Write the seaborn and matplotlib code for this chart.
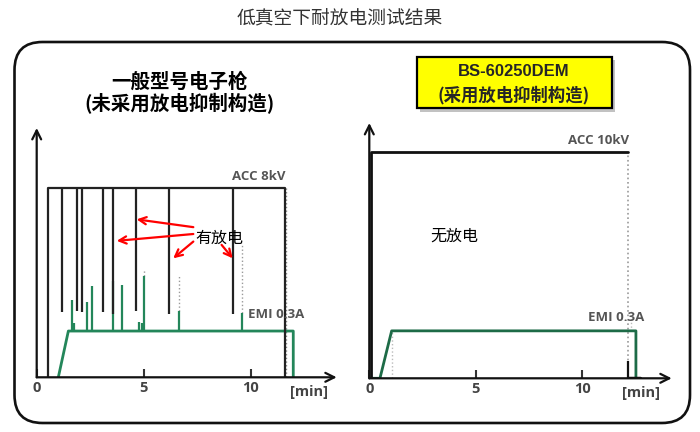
'''
Discharge test under low vacuum: ordinary gun vs BS-60250DEM.
'''
import matplotlib
matplotlib.use('agg')

import matplotlib.pyplot as plt
from matplotlib.patches import FancyBboxPatch, Rectangle
import seaborn as sns

# ---- data (minutes, kV-ish units) ----
# ordinary gun (left)
left_acc_t = [0.54, 0.54, 11.6, 11.6]
left_acc_v = [0, 8, 8, 0]
left_emi_t = [1.01, 1.48, 11.99, 11.99]
left_emi_v = [0, 1.96, 1.96, 0]
discharge_t = [1.2, 1.87, 2.13, 3.11, 3.58, 4.64, 6.2, 9.16]
discharge_low = [2.75, 2.8, 2.75, 2.75, 2.7, 2.8, 2.7, 2.7]
emi_spike_t = [1.64, 1.76, 2.34, 2.6, 3.55, 4.0, 4.79, 4.9, 5.03, 6.65, 9.58]
emi_spike_top = [3.28, 2.3, 3.19, 3.86, 4.1, 3.93, 2.34, 2.3, 4.27, 2.81, 2.72]
faint_t = [5.03, 6.65, 9.58]
faint_low = [4.27, 2.81, 2.72]
faint_high = [4.6, 4.3, 5.7]

# BS-60250DEM (right)
right_acc_t = [0.07, 0.07, 12.13]
right_acc_v = [0, 10, 10]
right_emi_t = [0.0, 0.5, 1.05, 12.52, 12.52]
right_emi_v = [0, 0, 2.1, 2.1, 0]
right_tail_t = [12.13, 12.7]
right_spike_t = [12.13]
right_spike_top = [0.77]

ticks = [0, 5, 10]
tick_labels = ['0', '5', '10']

W, H = 700, 432
sns.set_theme(style='white')
plt.rcParams['font.family'] = ['Noto Sans CJK SC', 'DejaVu Sans']
CJK = ['Noto Sans CJK SC', 'DejaVu Sans']
LAT = ['Open Sans', 'DejaVu Sans']

fig = plt.figure(figsize=(W / 100, H / 100), dpi=100)
fig.patch.set_facecolor('white')


def fx(px):
    return px / W


def fy(py):
    return 1 - py / H


# title
fig.text(fx(340), fy(18), '低真空下耐放电测试结果', ha='center', va='center',
         fontsize=13.5, family=CJK, color='#333333')

# rounded frame (inches)
frame = FancyBboxPatch((0.145, (H - 423) / 100), (690 - 14.5) / 100, (423 - 42) / 100,
                       boxstyle='round,pad=0,rounding_size=0.28',
                       transform=fig.dpi_scale_trans, fill=False,
                       edgecolor='#111111', linewidth=1.9)
fig.add_artist(frame)

# panel headings
fig.text(fx(179), fy(82), '一般型号电子枪', ha='center', va='center',
         fontsize=14, fontweight='bold', family=CJK, color='black')
fig.text(fx(179), fy(104), '(未采用放电抑制构造)', ha='center', va='center',
         fontsize=14, fontweight='bold', family=CJK, color='black')

shadow = Rectangle((fx(420), fy(111.5)), fx(195), fy(0) - fy(51), transform=fig.transFigure,
                   facecolor='#9a9a9a', edgecolor='none', alpha=0.6)
fig.add_artist(shadow)
ybox = Rectangle((fx(416.7), fy(108.3)), fx(195), fy(0) - fy(51), transform=fig.transFigure,
                 facecolor='#ffff00', edgecolor='black', linewidth=1.6)
fig.add_artist(ybox)
fig.text(fx(514), fy(72), 'BS-60250DEM', ha='center', va='center',
         fontsize=12, fontweight='bold', family=['Liberation Sans', 'DejaVu Sans'])
fig.text(fx(514), fy(95), '(采用放电抑制构造)', ha='center', va='center',
         fontsize=12.5, fontweight='bold', family=CJK)


def make_axes(left, right, bottom, top, xmax, ymax, min_x):
    ax = fig.add_axes([fx(left), fy(bottom), fx(right - left), fy(top) - fy(bottom)])
    ax.set_xlim(0, xmax)
    ax.set_ylim(0, ymax)
    ax.patch.set_alpha(0)
    for s in ax.spines.values():
        s.set_visible(False)
    ax.annotate('', xy=(1, 0), xytext=(0, 0), xycoords='axes fraction',
                arrowprops=dict(arrowstyle='->', lw=1.6, color='#111111',
                                mutation_scale=16, shrinkA=0, shrinkB=0))
    ax.annotate('', xy=(0, 1), xytext=(0, 0), xycoords='axes fraction',
                arrowprops=dict(arrowstyle='->', lw=1.6, color='#111111',
                                mutation_scale=16, shrinkA=0, shrinkB=0))
    ax.set_xticks(ticks)
    ax.set_xticklabels(tick_labels)
    ax.set_yticks([])
    ax.tick_params(axis='x', direction='in', length=6, width=1.5, color='#333333',
                   pad=3, labelsize=10.5, labelcolor='#444444', bottom=True)
    for lab in ax.get_xticklabels():
        lab.set_fontweight('bold')
        lab.set_family(LAT)
    ax.text(min_x, -0.03, '[min]', transform=ax.transAxes, ha='center', va='top',
            fontsize=10.5, fontweight='bold', family=LAT, color='#444444')
    return ax


# ---- left panel ----
axl = make_axes(36.7, 336.7, 377.3, 128, 14.02, 10.56, 0.909)
axl.vlines(faint_t, faint_low, faint_high, colors='#9a9a9a', linestyles=':', lw=1)
axl.vlines([11.63], 0, 8, colors='#888888', linestyles=':', lw=1)
axl.vlines(emi_spike_t, 1.96, emi_spike_top, colors='#23865a', lw=1.6)
sns.lineplot(x=left_emi_t, y=left_emi_v, sort=False, estimator=None, ax=axl,
             color='#23865a', lw=2)
axl.vlines(discharge_t, discharge_low, 8, colors='#222222', lw=1.6)
sns.lineplot(x=left_acc_t, y=left_acc_v, sort=False, estimator=None, ax=axl,
             color='#222222', lw=1.6)
axl.text(11.65, 8.25, 'ACC 8kV', ha='right', va='bottom', fontsize=9.5,
         fontweight='bold', family=LAT, color='#555555')
axl.text(12.5, 2.4, 'EMI 0.3A', ha='right', va='bottom', fontsize=9.5,
         fontweight='bold', family=LAT, color='#555555')

# discharge callouts
axl.text(7.4, 5.9, '有放电', ha='left', va='center', fontsize=11.5, family=CJK, color='black')
arrow_tips = [(4.67, 6.69), (3.74, 5.78), (6.38, 5.04), (9.16, 5.04)]
arrow_tails = [(7.32, 6.36), (7.32, 6.07), (7.32, 5.75), (8.64, 5.61)]
for tip, tail in zip(arrow_tips, arrow_tails):
    axl.annotate('', xy=tip, xytext=tail,
                 arrowprops=dict(arrowstyle='->', color='red', lw=1.6,
                                 mutation_scale=13, shrinkA=0, shrinkB=0))

# ---- right panel ----
axr = make_axes(369.3, 671.7, 378.3, 123, 14.2, 11.3, 0.9)
axr.vlines([12.13], 0, 10, colors='#999999', linestyles=':', lw=1.2)
axr.vlines([1.05, 12.3], [0, 2.1], [2.1, 3.0], colors='#bbbbbb', linestyles=':', lw=1)
sns.lineplot(x=right_emi_t, y=right_emi_v, sort=False, estimator=None, ax=axr,
             color='#1d6b47', lw=2)
sns.lineplot(x=right_tail_t, y=[0, 0], sort=False, estimator=None, ax=axr,
             color='#111111', lw=2.5)
axr.vlines(right_spike_t, 0, right_spike_top, colors='#111111', lw=1.6)
sns.lineplot(x=right_acc_t, y=right_acc_v, sort=False, estimator=None, ax=axr,
             color='#111111', lw=2)
axr.text(12.2, 10.25, 'ACC 10kV', ha='right', va='bottom', fontsize=9.5,
         fontweight='bold', family=LAT, color='#555555')
axr.text(12.9, 2.4, 'EMI 0.3A', ha='right', va='bottom', fontsize=9.5,
         fontweight='bold', family=LAT, color='#555555')
axr.text(2.85, 6.3, '无放电', ha='left', va='center', fontsize=11.5, family=CJK, color='black')

for ax in (axl, axr):
    ax.set_xlabel('')
    ax.set_ylabel('')

fig.savefig('out.png', dpi=100)
plt.close(fig)
